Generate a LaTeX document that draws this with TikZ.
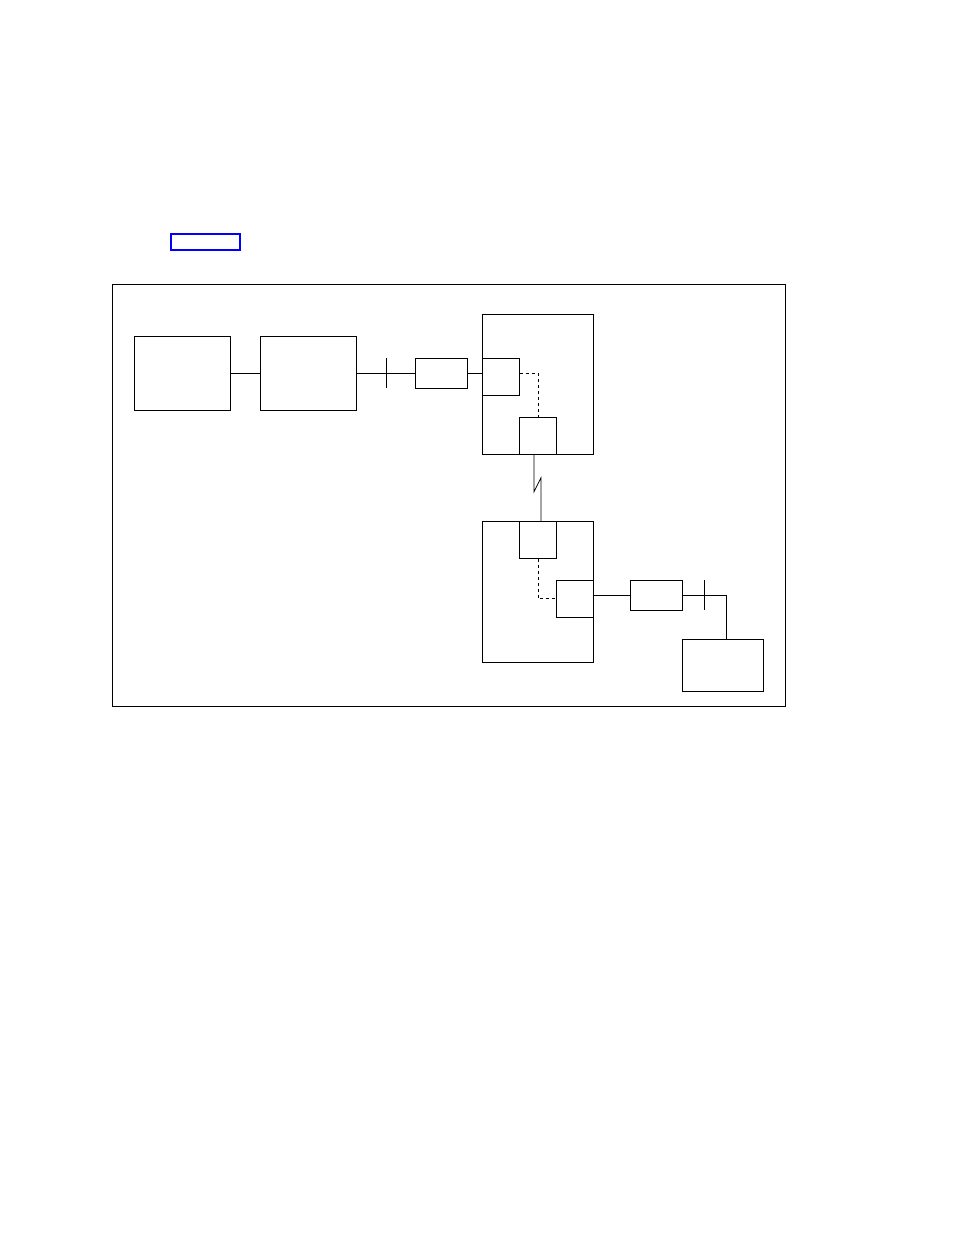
\documentclass[tikz,border=0pt]{standalone}
\begin{document}
\begin{tikzpicture}[x=1pt,y=-1pt,line width=0.8pt,
        box/.style={draw,inner sep=0pt,minimum width=#1},
        box/.default=37pt]
            \useasboundingbox (0,0) rectangle (954,1235);

            % link box
            \node[draw=blue,line width=1.8pt,inner sep=0pt,minimum width=69pt,minimum height=16pt] (link) at (205.5,242) {};

            % frame
            \node[draw,inner sep=0pt,minimum width=673pt,minimum height=422pt] (frame) at (448.5,495) {};

            % host side
            \node[box=96pt,minimum height=74pt] (host) at (182,373) {};
            \node[box=96pt,minimum height=74pt] (ctrl) at (308,373) {};
            \node[box=52pt,minimum height=30pt] (modemA) at (441,373) {};
            \coordinate (tickA) at (386,373);

            % upper unit
            \node[box=111pt,minimum height=140pt] (unitA) at (538,384) {};
            \node[box,minimum height=37pt] (portA1) at (501,376.8) {};
            \node[box,minimum height=37pt] (portA2) at (538,435.8) {};

            % lower unit
            \node[box=111pt,minimum height=141pt] (unitB) at (538,591.5) {};
            \node[box,minimum height=37pt] (portB1) at (538,539.8) {};
            \node[box,minimum height=37pt] (portB2) at (575,598.8) {};

            % terminal side
            \node[box=52pt,minimum height=30pt] (modemB) at (656,595.3) {};
            \node[box=81pt,minimum height=52pt] (term) at (723,665.3) {};
            \coordinate (tickB) at (704.3,595.3);

            % lines
            \draw (host.east) -- (ctrl.west);
            \draw (ctrl.east) -- (modemA.west);
            \draw (modemA.east) -- (modemA.east -| portA1.west);
            \draw[dashed] (portA1.east |- modemA.east) -| (portA2.north);
            \draw ([xshift=-4pt]portA2.south) -- ++(0,37) -- ++(7,-14) -- ([xshift=3pt]portB1.north);
            \draw[dashed] (portB1.south) |- (portB2.west);
            \draw (modemB.west -| portB2.east) -- (modemB.west);
            \draw (modemB.east) -| ([xshift=3.5pt]term.north);

            \foreach \t in {tickA,tickB}
                \draw ([yshift=15pt]\t) -- ([yshift=-15pt]\t);

        \end{tikzpicture}
\end{document}
